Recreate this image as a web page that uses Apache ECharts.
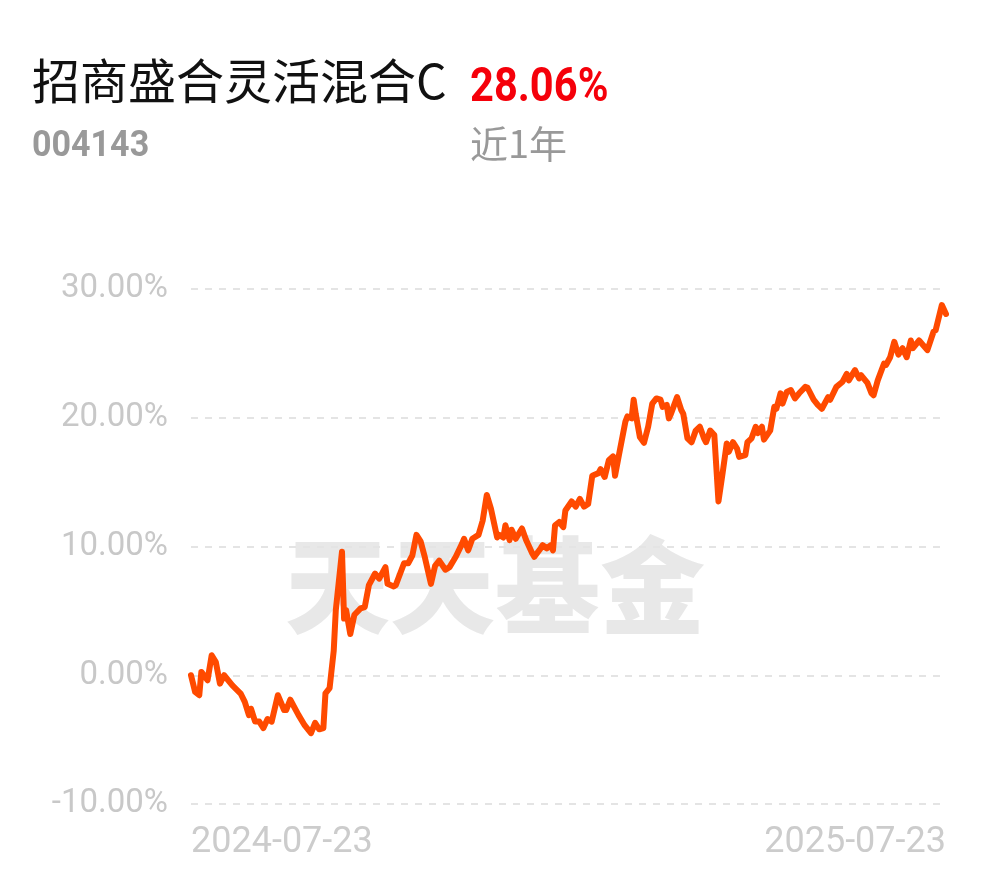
<!DOCTYPE html>
<html>
<head>
<meta charset="utf-8">
<script src="https://cdn.jsdelivr.net/npm/echarts@6/dist/echarts.min.js"></script>
<style>
html,body{margin:0;padding:0;background:#fff;}
#chart{width:990px;height:878px;}
</style>
</head>
<body>
<div id="chart"></div>
<script>
const fundName = '招商盛合灵活混合C';
const fundCode = '004143';
const periodReturn = '28.06%';
const periodLabel = '近1年';
const watermark = '天天基金';
const xTickLabels = ['2024-07-23', '2025-07-23'];
const yTicks = [-10, 0, 10, 20, 30];

const dates = [
'2024-07-23','2024-07-25','2024-07-27','2024-07-28','2024-07-31','2024-08-02','2024-08-04','2024-08-06','2024-08-08','2024-08-12',
'2024-08-16','2024-08-18','2024-08-20','2024-08-21','2024-08-23','2024-08-25','2024-08-27','2024-08-29','2024-08-31','2024-09-03',
'2024-09-06','2024-09-07','2024-09-09','2024-09-13','2024-09-16','2024-09-19','2024-09-21','2024-09-23','2024-09-25','2024-09-26',
'2024-09-28','2024-09-30','2024-10-01','2024-10-04','2024-10-05','2024-10-06','2024-10-08','2024-10-10','2024-10-13','2024-10-15',
'2024-10-17','2024-10-20','2024-10-22','2024-10-25','2024-10-26','2024-10-29','2024-10-30','2024-11-03','2024-11-05','2024-11-07',
'2024-11-09','2024-11-11','2024-11-13','2024-11-16','2024-11-18','2024-11-20','2024-11-23','2024-11-25','2024-11-28','2024-12-01',
'2024-12-02','2024-12-04','2024-12-06','2024-12-09','2024-12-11','2024-12-13','2024-12-15','2024-12-18','2024-12-19','2024-12-21',
'2024-12-22','2024-12-24','2024-12-25','2024-12-27','2024-12-30','2025-01-01','2025-01-04','2025-01-05','2025-01-08','2025-01-09',
'2025-01-11','2025-01-13','2025-01-14','2025-01-15','2025-01-17','2025-01-19','2025-01-20','2025-01-23','2025-01-25','2025-01-27',
'2025-01-29','2025-01-31','2025-02-02','2025-02-05','2025-02-06','2025-02-08','2025-02-10','2025-02-12','2025-02-13','2025-02-15',
'2025-02-18','2025-02-19','2025-02-21','2025-02-22','2025-02-23','2025-02-25','2025-02-27','2025-03-01','2025-03-03','2025-03-05',
'2025-03-07','2025-03-08','2025-03-10','2025-03-11','2025-03-12','2025-03-15','2025-03-17','2025-03-18','2025-03-20','2025-03-22',
'2025-03-24','2025-03-26','2025-03-28','2025-03-29','2025-03-31','2025-04-02','2025-04-04','2025-04-06','2025-04-08','2025-04-09',
'2025-04-11','2025-04-13','2025-04-14','2025-04-17','2025-04-18','2025-04-20','2025-04-22','2025-04-23','2025-04-25','2025-04-26',
'2025-04-29','2025-05-01','2025-05-02','2025-05-04','2025-05-05','2025-05-07','2025-05-09','2025-05-11','2025-05-13','2025-05-16',
'2025-05-17','2025-05-20','2025-05-22','2025-05-24','2025-05-27','2025-05-28','2025-05-31','2025-06-03','2025-06-05','2025-06-06',
'2025-06-09','2025-06-11','2025-06-12','2025-06-15','2025-06-17','2025-06-18','2025-06-20','2025-06-23','2025-06-24','2025-06-26',
'2025-06-28','2025-06-30','2025-07-02','2025-07-04','2025-07-06','2025-07-07','2025-07-10','2025-07-14','2025-07-17','2025-07-18',
'2025-07-21','2025-07-23'
];

const returns = [
0, -1.3, -1.55, 0.26, -0.39, 1.55, 1.03, -0.65, 0, -0.78,
-1.42, -2.07, -3.1, -2.6, -3.6, -3.6, -4.1, -3.4, -3.6, -1.55,
-2.7, -2.7, -1.9, -3.1, -3.9, -4.5, -3.7, -4.2, -4.1, -1.4,
-1.0, 1.9, 5.05, 9.6, 4.4, 5.05, 3.2, 4.7, 5.2, 5.3,
7.0, 7.9, 7.5, 8.4, 7.1, 6.9, 7.0, 8.7, 8.7, 9.3,
10.9, 10.4, 9.2, 7.1, 8.5, 8.9, 8.2, 8.4, 9.2, 10.2,
10.6, 9.7, 10.6, 10.9, 12.0, 14.0, 12.95, 10.7, 10.9, 10.7,
11.65, 10.5, 11.3, 10.6, 11.4, 10.5, 9.46, 9.2, 9.85, 10.1,
9.85, 10.1, 9.7, 11.65, 11.9, 11.5, 12.8, 13.5, 13.1, 13.7,
13.1, 13.3, 15.5, 15.7, 16.0, 15.4, 16.7, 17.0, 15.5, 17.2,
19.7, 20.1, 19.95, 21.4, 20.3, 18.5, 18.05, 19.3, 21.1, 21.5,
21.4, 20.85, 21.0, 19.95, 20.3, 21.6, 20.6, 20.3, 18.4, 18.1,
19.0, 19.3, 18.4, 18.1, 19.0, 18.65, 13.5, 15.7, 18.0, 17.35,
18.1, 17.6, 16.96, 17.1, 18.1, 18.4, 19.3, 18.8, 19.3, 18.3,
19.0, 20.85, 20.7, 21.9, 21.1, 22.0, 22.15, 21.5, 21.9, 22.4,
22.35, 21.4, 21.0, 20.7, 21.6, 21.4, 22.4, 22.8, 23.4, 22.9,
23.7, 23.05, 23.3, 22.7, 21.9, 21.75, 22.9, 24.2, 24.1, 24.7,
25.9, 24.9, 25.4, 24.7, 26.0, 25.4, 26.0, 25.25, 26.7, 26.8,
28.75, 28.06
];

const toTs = s => Date.UTC(+s.slice(0, 4), +s.slice(5, 7) - 1, +s.slice(8, 10));
const pad = n => (n < 10 ? '0' : '') + n;
const fmtDate = ts => { const d = new Date(ts); return d.getUTCFullYear() + '-' + pad(d.getUTCMonth() + 1) + '-' + pad(d.getUTCDate()); };

const chart = echarts.init(document.getElementById('chart'));
const seriesData = dates.map((d, i) => [toTs(d), returns[i]]);
const xMin = toTs(xTickLabels[0]);
const xMax = toTs(xTickLabels[1]);

function headText(text, x, y, size, weight, color, family, sx) {
  return { type: 'text', x: x, y: y, scaleX: sx || 1, silent: true, z: 10,
    style: { text: text, fontSize: size, fontWeight: weight, fill: color, fontFamily: family,
      textAlign: 'left', textVerticalAlign: 'top' } };
}

chart.setOption({
  backgroundColor: '#ffffff',
  animation: false,
  graphic: [
    headText(fundName, 32, 57, 48, 'normal', '#111111', 'Noto Sans CJK SC', 1),
    headText(periodReturn, 470, 64, 49, 'bold', '#f5000a', 'Roboto', 0.85),
    headText(fundCode, 32, 128, 37, 'bold', '#999999', 'Roboto', 0.92),
    headText(periodLabel, 470, 125, 38, 'normal', '#999999', 'Noto Sans CJK SC', 1),
    { type: 'text', left: 'center', top: 533, z: 0, silent: true,
      style: { text: watermark, fontSize: 105, fontWeight: 900, fill: '#e8e8e8',
        fontFamily: 'Noto Sans CJK SC' } }
  ],
  grid: { left: 191, right: 44, top: 289, bottom: 74 },
  xAxis: {
    type: 'value',
    min: xMin, max: xMax,
    axisLine: { show: false }, axisTick: { show: false }, splitLine: { show: false },
    axisLabel: {
      customValues: [xMin, xMax],
      alignMinLabel: 'left', alignMaxLabel: 'right',
      margin: 21, fontSize: 36, color: '#cccccc', fontFamily: 'Roboto',
      formatter: v => fmtDate(v)
    }
  },
  yAxis: {
    type: 'value', min: yTicks[0], max: yTicks[yTicks.length - 1], interval: 10,
    axisLine: { show: false }, axisTick: { show: false },
    axisLabel: { margin: 23, fontSize: 33, color: '#c8c8c8', fontFamily: 'Roboto',
      formatter: v => v.toFixed(2) + '%' },
    splitLine: { show: true, lineStyle: { color: '#e4e4e4', width: 2, type: [7, 7] } }
  },
  series: [{
    type: 'line', data: seriesData, showSymbol: false, symbol: 'none', z: 3,
    lineStyle: { color: '#ff4a00', width: 6, join: 'round', cap: 'round' }
  }]
});
</script>
</body>
</html>
